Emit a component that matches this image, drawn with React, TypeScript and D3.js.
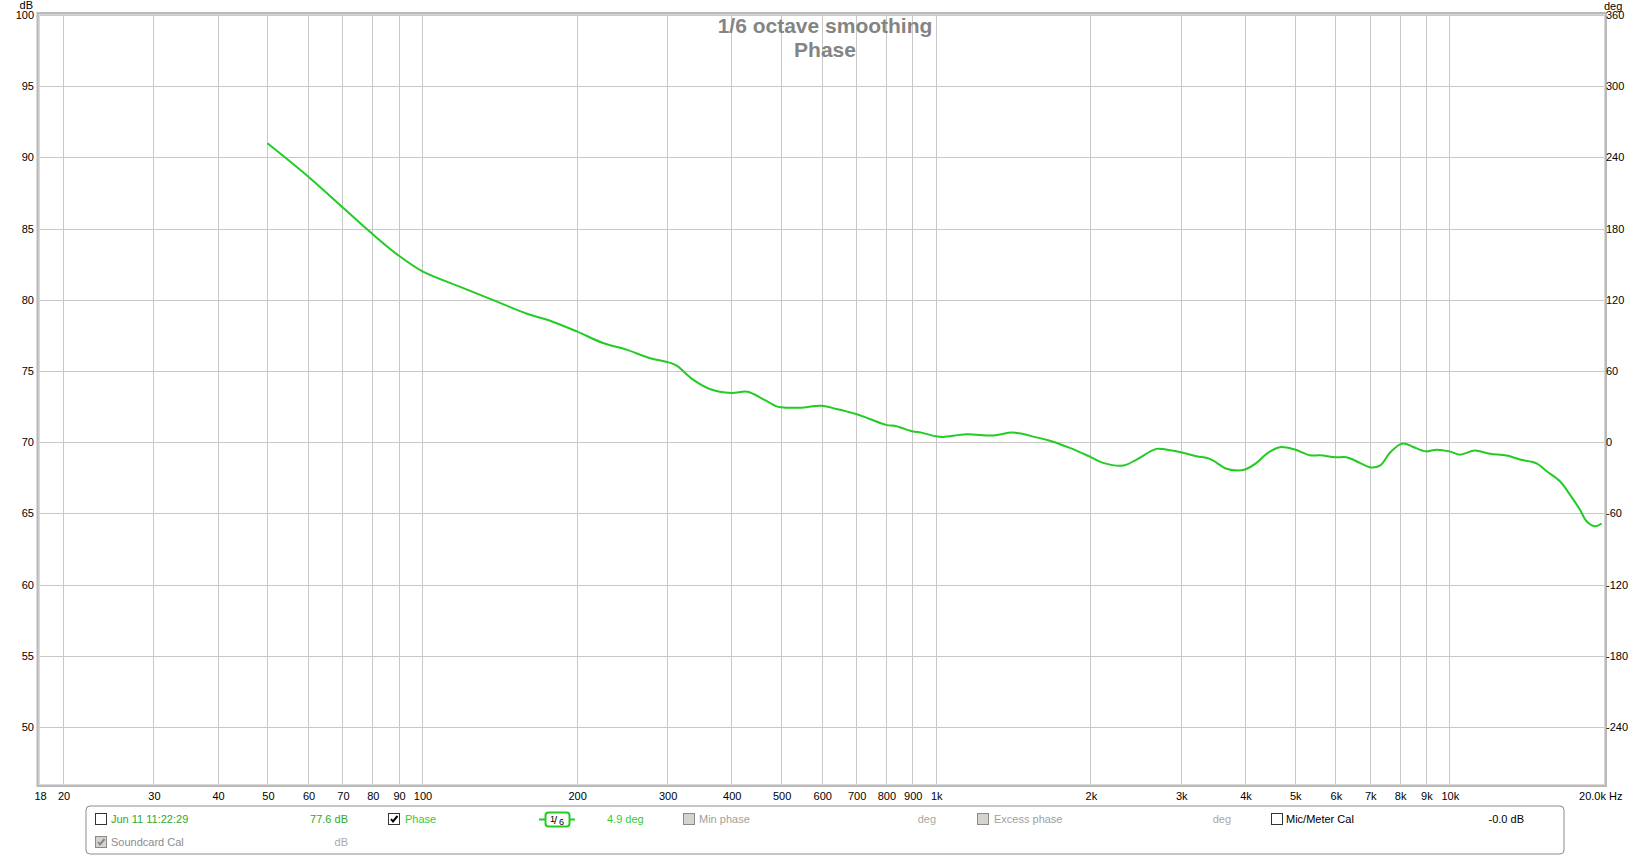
import React, { useEffect, useRef } from 'react';
import * as d3 from 'd3';

// phase trace (Hz, degrees)
const freqs = [
  50, 60, 70, 80, 90, 100, 118, 138, 160, 177, 200, 225, 250, 278, 300, 313, 337, 363, 400, 430,
  461, 490, 500, 544, 600, 641, 670, 700, 744, 800, 839, 900, 938, 1000, 1034, 1148, 1294, 1415,
  1571, 1668, 1824, 2000, 2118, 2317, 2461, 2691, 2855, 3000, 3219, 3417, 3683, 3880, 4000, 4213,
  4407, 4676, 5000, 5350, 5597, 6000, 6305, 6694, 7000, 7324, 7660, 8000, 8195, 8505, 9000, 9442,
  10000, 10484, 11212, 11991, 12925, 13720, 14784, 15463, 16414, 17165, 17951, 18497, 19200, 19790,
];
const phaseDeg = [
  252, 224, 198, 175.6, 157.4, 144.2, 131.3, 119.5, 108.3, 102.6, 93.4, 83.6, 78, 70.7, 67.6, 64.5,
  52.7, 44.9, 41.5, 42.6, 36.4, 30.2, 29.4, 29.1, 30.8, 28, 26, 23.8, 19.6, 14.6, 13.5, 9.2, 8.1, 5,
  4.5, 6.7, 5.6, 8.1, 4.1, 1.3, -4.8, -12.4, -17.4, -19.7, -14.6, -5.6, -6.7, -8.4, -11.8, -14,
  -22.4, -23.9, -23, -17.4, -9.8, -4.2, -6.2, -11, -11, -12.7, -12.7, -17.4, -21.1, -19.7, -8.9, -2,
  -1.2, -4, -7.7, -6.3, -7.7, -10.5, -6.9, -9.8, -11.2, -14.6, -17.9, -24.4, -32.9, -44.1, -56.7,
  -66.6, -70.8, -68.5,
];

const gridFreqs = [
  20, 30, 40, 50, 60, 70, 80, 90, 100, 200, 300, 400, 500, 600, 700, 800, 900, 1000, 2000, 3000,
  4000, 5000, 6000, 7000, 8000, 9000, 10000,
];
const freqLabels = [
  '18', '20', '30', '40', '50', '60', '70', '80', '90', '100', '200', '300', '400', '500', '600',
  '700', '800', '900', '1k', '2k', '3k', '4k', '5k', '6k', '7k', '8k', '9k', '10k',
];
const labelFreqs = [18, ...gridFreqs];
const dbTicks = [50, 55, 60, 65, 70, 75, 80, 85, 90, 95, 100];
const degTicks = [-240, -180, -120, -60, 0, 60, 120, 180, 240, 300, 360];

const W = 1651;
const H = 856;
const FONT = '"Liberation Sans", Arial, sans-serif';

const App: React.FC = () => {
  const svgRef = useRef<SVGSVGElement>(null);

  useEffect(() => {
    document.body.style.margin = '0';
    if (!svgRef.current) return;
    const svg = d3.select(svgRef.current);
    svg.selectAll('*').remove();

    const left = 39.5;
    const right = 1604;
    const top = 15;
    const bottom = 784;

    const x = d3.scaleLog().domain([18, 20000]).range([left, right]);
    const yDb = d3.scaleLinear().domain([46, 100]).range([bottom, top]);
    const yDeg = d3.scaleLinear().domain([-288, 360]).range([bottom, top]);

    svg.append('rect').attr('width', W).attr('height', H).attr('fill', '#fff');

    // grid
    const grid = svg.append('g').attr('stroke', '#c8c8c8').attr('stroke-width', 1);
    gridFreqs.forEach((f) => {
      const gx = Math.round(x(f)) + 0.5;
      grid.append('line').attr('x1', gx).attr('x2', gx).attr('y1', top).attr('y2', bottom);
    });
    dbTicks.forEach((v) => {
      const gy = Math.round(yDb(v)) + 0.5;
      grid.append('line').attr('x1', left).attr('x2', right).attr('y1', gy).attr('y2', gy);
    });

    // title
    const title = svg
      .append('text')
      .attr('text-anchor', 'middle')
      .style('font-family', FONT)
      .style('font-weight', 'bold')
      .style('font-size', '21px')
      .attr('fill', '#848484');
    title.append('tspan').attr('x', 825).attr('y', 33).text('1/6 octave smoothing');
    title.append('tspan').attr('x', 825).attr('y', 56.5).text('Phase');

    // phase trace
    const line = d3
      .line<number>()
      .x((_, i) => x(freqs[i]))
      .y((d) => yDeg(d))
      .curve(d3.curveCatmullRom.alpha(0.5));
    svg
      .append('path')
      .attr('d', line(phaseDeg))
      .attr('fill', 'none')
      .attr('stroke', '#22cc22')
      .attr('stroke-width', 2);

    // frame
    svg
      .append('rect')
      .attr('x', left - 1.5)
      .attr('y', top - 1.5)
      .attr('width', right - left + 3)
      .attr('height', bottom - top + 3)
      .attr('fill', 'none')
      .attr('stroke', '#b9b9b9')
      .attr('stroke-width', 3);
    svg
      .append('rect')
      .attr('x', left - 0.5)
      .attr('y', top - 0.5)
      .attr('width', right - left + 1)
      .attr('height', bottom - top + 1)
      .attr('fill', 'none')
      .attr('stroke', '#d8d8d8')
      .attr('stroke-width', 1);

    const txt = (g: d3.Selection<any, unknown, null, undefined>) =>
      g.style('font-family', FONT).style('font-size', '11px').attr('fill', '#000');

    // left axis
    const la = svg.append('g').call(txt).attr('text-anchor', 'end');
    dbTicks.forEach((v) => {
      la.append('text').attr('x', 34).attr('y', yDb(v) + 4).text(String(v));
    });
    la.append('text').attr('x', 33).attr('y', 9).text('dB');

    // right axis
    const ra = svg.append('g').call(txt).attr('text-anchor', 'start');
    degTicks.forEach((v) => {
      ra.append('text').attr('x', 1606).attr('y', yDeg(v) + 4).text(String(v));
    });
    ra.append('text').attr('x', 1604).attr('y', 10).text('deg');

    // frequency axis
    const fa = svg.append('g').call(txt).attr('text-anchor', 'middle');
    labelFreqs.forEach((f, i) => {
      fa.append('text').attr('x', x(f) + 1).attr('y', 800).text(freqLabels[i]);
    });
    fa.append('text').attr('x', 1606).attr('y', 800).attr('text-anchor', 'end').text('20.0k');
    fa.append('text').attr('x', 1609).attr('y', 800).attr('text-anchor', 'start').text('Hz');

    // legend panel
    const lg = svg.append('g').call(txt);
    lg.append('rect')
      .attr('x', 86)
      .attr('y', 806)
      .attr('width', 1478)
      .attr('height', 48)
      .attr('rx', 4)
      .attr('fill', '#fff')
      .attr('stroke', '#8c8c8c')
      .attr('stroke-width', 1);

    const checkbox = (cx: number, cy: number, checked: boolean, disabled: boolean) => {
      lg.append('rect')
        .attr('x', cx + 0.5)
        .attr('y', cy + 0.5)
        .attr('width', 11)
        .attr('height', 11)
        .attr('fill', disabled ? '#d6d3ce' : '#fff')
        .attr('stroke', disabled ? '#8a8a8a' : '#333')
        .attr('stroke-width', 1);
      if (checked) {
        lg.append('path')
          .attr('d', `M${cx + 3},${cy + 6} L${cx + 5},${cy + 8.5} L${cx + 9.5},${cy + 3}`)
          .attr('fill', 'none')
          .attr('stroke', disabled ? '#8a8a8a' : '#000')
          .attr('stroke-width', 2);
      }
    };
    const label = (tx: number, ty: number, s: string, color: string, anchor = 'start') => {
      lg.append('text').attr('x', tx).attr('y', ty).attr('fill', color).attr('text-anchor', anchor).text(s);
    };

    const r1 = 823;
    const r2 = 846;
    checkbox(95, 813, false, false);
    label(111, r1, 'Jun 11 11:22:29', '#2ea82e');
    label(348, r1, '77.6 dB', '#2ea82e', 'end');
    checkbox(388, 813, true, false);
    label(405, r1, 'Phase', '#33cc33');

    // smoothing badge
    lg.append('line').attr('x1', 539).attr('x2', 575).attr('y1', 819.5).attr('y2', 819.5).attr('stroke', '#22cc22').attr('stroke-width', 2);
    lg.append('rect')
      .attr('x', 545.5)
      .attr('y', 812.5)
      .attr('width', 24)
      .attr('height', 14)
      .attr('rx', 3)
      .attr('fill', '#fff')
      .attr('stroke', '#22cc22')
      .attr('stroke-width', 2);
    lg.append('text').attr('x', 550).attr('y', 822).style('font-size', '9px').text('1');
    lg.append('text').attr('x', 554).attr('y', 824).style('font-size', '11px').text('/');
    lg.append('text').attr('x', 559).attr('y', 825).style('font-size', '9px').text('6');

    label(607, r1, '4.9 deg', '#33cc33');
    checkbox(683, 813, false, true);
    label(699, r1, 'Min phase', '#a0a0a0');
    label(936, r1, 'deg', '#a8a8a8', 'end');
    checkbox(977, 813, false, true);
    label(994, r1, 'Excess phase', '#a0a0a0');
    label(1231, r1, 'deg', '#a8a8a8', 'end');
    checkbox(1271, 813, false, false);
    label(1286, r1, 'Mic/Meter Cal', '#000');
    label(1524, r1, '-0.0 dB', '#000', 'end');

    checkbox(95, 836, true, true);
    label(111, r2, 'Soundcard Cal', '#8c8c8c');
    label(348, r2, 'dB', '#a8a8a8', 'end');
  }, []);

  return <svg ref={svgRef} width={W} height={H} style={{ display: 'block' }} />;
};

export default App;
